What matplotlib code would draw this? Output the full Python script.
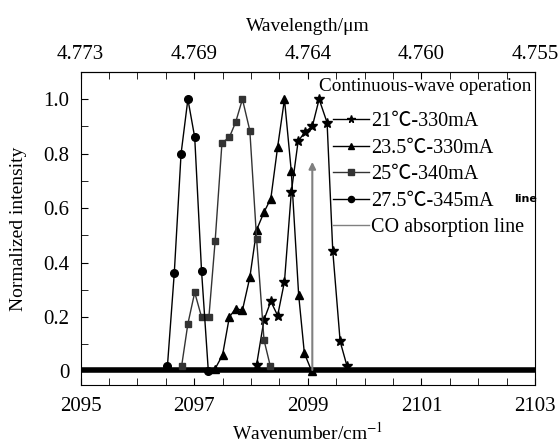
import matplotlib
matplotlib.use('Agg')
import matplotlib.pyplot as plt
from matplotlib.lines import Line2D
from matplotlib.ticker import MultipleLocator, FixedLocator

plt.rcParams['font.family'] = ['Liberation Serif', 'Noto Sans CJK SC', 'DejaVu Serif']
plt.rcParams['mathtext.fontset'] = 'stix'

# данные
x_21 = [2098.10, 2098.23, 2098.35, 2098.47, 2098.59, 2098.71, 2098.83, 2098.95, 2099.08, 2099.20, 2099.34, 2099.44, 2099.57, 2099.69]
y_21 = [0.025, 0.19, 0.257, 0.205, 0.33, 0.658, 0.845, 0.88, 0.90, 1.0, 0.914, 0.443, 0.11, 0.02]

x_235 = [2097.37, 2097.50, 2097.62, 2097.73, 2097.85, 2097.98, 2098.10, 2098.23, 2098.35, 2098.47, 2098.59, 2098.71, 2098.84, 2098.94, 2099.07]
y_235 = [0.01, 0.06, 0.20, 0.23, 0.225, 0.345, 0.52, 0.585, 0.635, 0.825, 1.0, 0.735, 0.28, 0.067, 0.0]

x_25 = [2096.78, 2096.89, 2097.01, 2097.13, 2097.26, 2097.37, 2097.49, 2097.62, 2097.73, 2097.85, 2097.98, 2098.10, 2098.23, 2098.34]
y_25 = [0.02, 0.175, 0.29, 0.20, 0.20, 0.48, 0.84, 0.86, 0.915, 1.0, 0.885, 0.485, 0.115, 0.02]

x_275 = [2096.53, 2096.65, 2096.77, 2096.89, 2097.01, 2097.13, 2097.25]
y_275 = [0.02, 0.36, 0.80, 1.00, 0.86, 0.37, 0.0]

labels = ['21\u2103-330mA', '23.5\u2103-330mA', '25\u2103-340mA', '27.5\u2103-345mA']

base_x = [2095, 2103]
base_y = [0.005, 0.005]

co_x = 2099.08
co_top = 0.78

bottom_ticks = [2095, 2097, 2099, 2101, 2103]

fig = plt.figure(figsize=(5.58, 4.46), dpi=100)
ax = fig.add_axes([0.1443, 0.1368, 0.8145, 0.7018])

# шумовая базовая линия
ax.plot(base_x, base_y, color='black', lw=4, solid_capstyle='butt', zorder=1)

ax.plot(x_21, y_21, '-', marker='*', color='black', lw=1, ms=7, label=labels[0])
ax.plot(x_235, y_235, '-', marker='^', color='black', lw=1, ms=6, label=labels[1])
ax.plot(x_25, y_25, '-', marker='s', color='#333333', mec='#333333', lw=1, ms=5, label=labels[2])
ax.plot(x_275, y_275, '-', marker='o', color='black', lw=1, ms=5.5, label=labels[3])

ax.annotate('', xy=(co_x, co_top), xytext=(co_x, -0.005),
            arrowprops=dict(arrowstyle='-|>', color='#808080', lw=1.5, mutation_scale=10))

handles, labs = ax.get_legend_handles_labels()
handles.append(Line2D([], [], color='#808080', lw=1))
labs.append('CO absorption line')
ax.legend(handles, labs, loc='upper left', bbox_to_anchor=(0.556, 0.872), frameon=False,
          fontsize=14.5, handlelength=1.8, handletextpad=0.1, labelspacing=0.37,
          borderpad=0, borderaxespad=0, markerscale=0.8)

ax.text(0.992, 0.955, 'Continuous-wave operation', transform=ax.transAxes,
        ha='right', va='center', fontsize=13.8)
ax.text(0.955, 0.595, 'line', transform=ax.transAxes, ha='left', va='center',
        fontsize=8, fontweight='bold', family=['DejaVu Sans'])

ax.set_xlim(2095, 2103)
ax.set_ylim(-0.05, 1.1)
ax.set_xticks(bottom_ticks)
ax.xaxis.set_minor_locator(MultipleLocator(0.5))
ax.yaxis.set_minor_locator(MultipleLocator(0.1))
ax.set_yticks([0, 0.2, 0.4, 0.6, 0.8, 1.0])
ax.set_yticklabels(['0', '0.2', '0.4', '0.6', '0.8', '1.0'])
ax.tick_params(which='both', direction='in', top=True, labelsize=15)
ax.tick_params(which='both', length=5)
ax.tick_params(axis='x', pad=9)
ax.tick_params(axis='y', pad=8)

ax.set_xlabel(r'Wavenumber/cm$^{-1}$', fontsize=14, labelpad=4)
ax.set_ylabel('Normalized intensity', fontsize=14, labelpad=12)

# верхняя ось длин волн
sec = ax.secondary_xaxis('top', functions=(lambda x: 1e4 / x, lambda w: 1e4 / w))
wl = [1e4 / v for v in bottom_ticks]
sec.xaxis.set_major_locator(FixedLocator(wl))
sec.set_xticklabels(['%.3f' % w for w in wl])
sec.xaxis.set_minor_locator(FixedLocator([]))
sec.tick_params(length=0, labelsize=15, pad=6)
sec.set_xlabel('Wavelength/\u03bcm', fontsize=14, labelpad=10)

fig.savefig('out.png', dpi=100)
